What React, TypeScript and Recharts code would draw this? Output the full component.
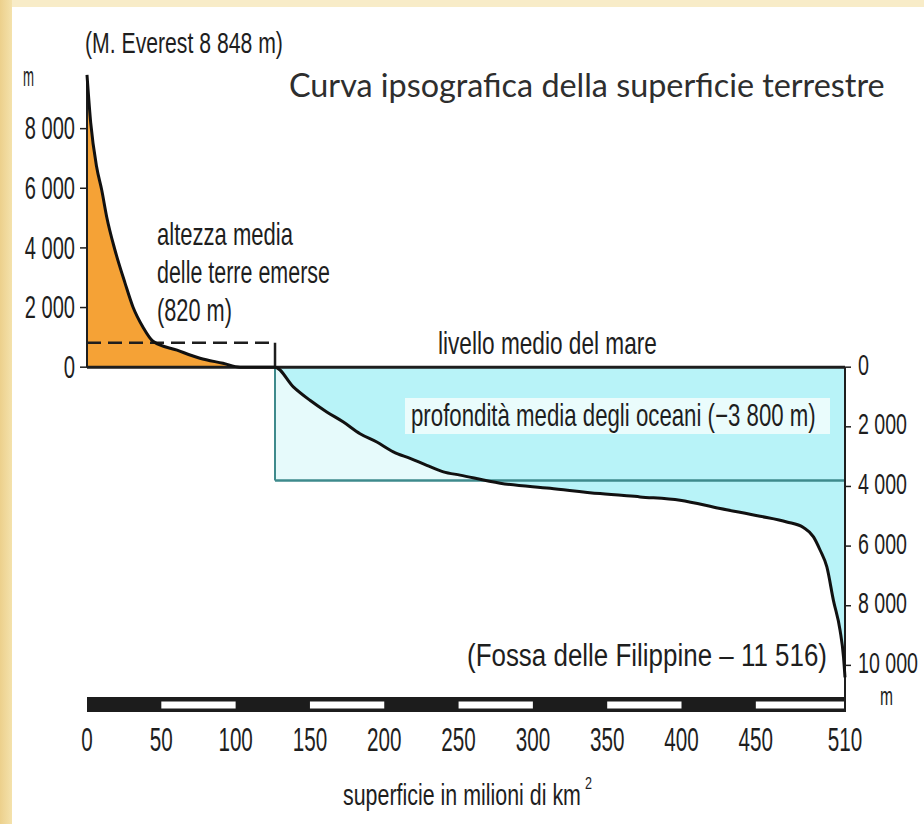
import { ComposedChart, Area, Line, XAxis, YAxis, ReferenceLine, ReferenceArea } from 'recharts';

// cumulative surface (millions of km²) and elevation (m)
const AREA_MKM2 = [
  0, 2.5, 6.5, 9.9, 13.3, 18.8, 25.6, 31, 37.7, 44.4, 60.6, 76, 91.5, 103, 126.5,
  138.8, 150, 161.3, 172.5, 183.7, 195, 206.1, 217.4, 228.6, 239.8, 251, 278, 311.6,
  345.2, 372.1, 399, 426, 452.9, 470.8, 482, 488.8, 493.3, 497.8, 502.2, 506.7, 509, 510,
];
const ELEVATION_M = [
  9800, 8190, 6710, 5940, 5030, 3930, 2820, 2010, 1340, 870, 570, 300, 130, 0, 0,
  -660, -1110, -1500, -1840, -2230, -2510, -2840, -3060, -3290, -3510, -3620, -3890, -4060,
  -4240, -4350, -4460, -4740, -5000, -5190, -5380, -5690, -6140, -6700, -7820, -8830, -9720, -10400,
];

const X_TICKS = [0, 50, 100, 150, 200, 250, 300, 350, 400, 450, 510];
const LEFT_TICKS = [0, 2000, 4000, 6000, 8000];
const RIGHT_TICKS = [0, -2000, -4000, -6000, -8000, -10000];
const SCALE_BAR_WHITE = [[50, 100], [150, 200], [250, 300], [350, 400], [450, 510]];

const OCEAN_START = 126.5;
const MEAN_LAND = 820;
const MEAN_DEPTH = -3800;
const PEAK = 9800;

const Y_DOMAIN = [-12000, 10000];
const BAR_TOP = -11060;
const BAR_BOTTOM = -11560;
const BAR_INNER_TOP = -11210;
const BAR_INNER_BOTTOM = -11450;

const NARROW = "'Liberation Sans', Arial, sans-serif";
const INK = '#1e1e1e';
const ORANGE = '#f5a236';
const CYAN = '#b8f3f8';
const PALE = '#e6fafb';
const TEAL = '#3e8a8c';

const data = AREA_MKM2.map((a, i) => {
  const e = ELEVATION_M[i];
  return {
    area: a,
    elev: e,
    land: Math.max(e, 0),
    sea: Math.min(e, 0),
    box: a >= OCEAN_START ? MEAN_DEPTH : null,
  };
});

const fmt = (v: number) => String(Math.abs(v)).replace(/\B(?=(\d{3})+(?!\d))/g, ' ');
const numW = (s: string, d = 11, sp = 5) => [...s].reduce((t, c) => t + (c === ' ' ? sp : d), 0);

// the original lettering is a tall condensed face: measure, then squeeze horizontally
let ctx: CanvasRenderingContext2D | null = null;
function measure(text: string, size: number, family: string) {
  if (!ctx) ctx = document.createElement('canvas').getContext('2d');
  if (!ctx) return text.length * size * 0.5;
  ctx.font = `${size}px ${family}`;
  return ctx.measureText(text).width;
}

function Txt({ x, y, w, size = 30, anchor = 'start', family = NARROW, fill = INK, children }: any) {
  const text = String(children);
  const sx = w ? w / measure(text, size, family) : 1;
  return (
    <text
      transform={`translate(${x} ${y}) scale(${sx} 1)`}
      x={0}
      y={0}
      fontSize={size}
      fontFamily={family}
      fill={fill}
      textAnchor={anchor}
      dominantBaseline="central"
    >
      {text}
    </text>
  );
}

const LeftTick = (p: any) => {
  const s = fmt(p.payload.value);
  return <Txt x={p.x} y={p.y} anchor="end" size={31} w={numW(s, 11.3)}>{s}</Txt>;
};

const RightTick = (p: any) => {
  const s = fmt(p.payload.value);
  return <Txt x={p.x} y={p.y - 3} size={30} w={numW(s, 11)}>{s}</Txt>;
};

const BottomTick = (p: any) => {
  const s = String(p.payload.value);
  return <Txt x={p.x} y={p.y + 15} anchor="middle" size={34} w={numW(s, 11.5)}>{s}</Txt>;
};

export default function App() {
  return (
    <div style={{ position: 'absolute', left: 0, top: 0, width: 924, height: 824, background: '#f8ecc8', overflow: 'hidden' }}>
      <div style={{ position: 'absolute', left: 0, top: 0, width: 12, height: 824, background: 'linear-gradient(90deg, #ecd08c, #f4e2ac)' }} />
      <div style={{ position: 'absolute', left: 12, top: 7, right: 0, bottom: 0, background: '#ffffff' }} />

      <div style={{ position: 'absolute', left: 0, top: 0 }}>
        <ComposedChart width={924} height={824} data={data} margin={{ top: 69, right: 0, bottom: 0, left: 0 }}>
          <XAxis
            type="number"
            dataKey="area"
            domain={[0, 510]}
            ticks={X_TICKS}
            interval={0}
            axisLine={false}
            tickLine={false}
            tickSize={0}
            tickMargin={0}
            height={99}
            tick={<BottomTick />}
          />
          <YAxis
            yAxisId="L"
            type="number"
            domain={Y_DOMAIN}
            ticks={LEFT_TICKS}
            interval={0}
            width={87}
            axisLine={false}
            tickLine={{ stroke: INK, strokeWidth: 1.5 }}
            tickSize={7}
            tickMargin={5}
            tick={<LeftTick />}
            allowDataOverflow
          />
          <YAxis
            yAxisId="R"
            orientation="right"
            type="number"
            domain={Y_DOMAIN}
            ticks={RIGHT_TICKS}
            interval={0}
            width={79}
            axisLine={false}
            tickLine={{ stroke: INK, strokeWidth: 1.5 }}
            tickSize={6}
            tickMargin={7}
            tick={<RightTick />}
            allowDataOverflow
          />

          <Area yAxisId="L" dataKey="box" type="linear" baseValue={0} stroke="none" fill={PALE} fillOpacity={1} isAnimationActive={false} />
          <Area yAxisId="L" dataKey="sea" type="monotone" baseValue={0} stroke="none" fill={CYAN} fillOpacity={1} isAnimationActive={false} />
          <Area yAxisId="L" dataKey="land" type="monotone" baseValue={0} stroke="none" fill={ORANGE} fillOpacity={1} isAnimationActive={false} />

          {/* mean depth box */}
          <ReferenceLine yAxisId="L" segment={[{ x: OCEAN_START, y: 0 }, { x: OCEAN_START, y: MEAN_DEPTH }]} stroke={TEAL} strokeWidth={2} />
          <ReferenceLine yAxisId="L" segment={[{ x: OCEAN_START, y: MEAN_DEPTH }, { x: 510, y: MEAN_DEPTH }]} stroke={TEAL} strokeWidth={2.5} />

          {/* mean land height */}
          <ReferenceLine yAxisId="L" segment={[{ x: 0, y: MEAN_LAND }, { x: OCEAN_START, y: MEAN_LAND }]} stroke={INK} strokeWidth={2.5} strokeDasharray="14 7" />
          <ReferenceLine yAxisId="L" segment={[{ x: OCEAN_START, y: MEAN_LAND }, { x: OCEAN_START, y: 0 }]} stroke={INK} strokeWidth={2.5} />

          {/* scale bar */}
          <ReferenceArea yAxisId="L" x1={0} x2={510} y1={BAR_BOTTOM} y2={BAR_TOP} fill="#1c1c1c" fillOpacity={1} stroke="none" />
          {SCALE_BAR_WHITE.map(([a, b]) => (
            <ReferenceArea key={a} yAxisId="L" x1={a} x2={b} y1={BAR_INNER_BOTTOM} y2={BAR_INNER_TOP} fill="#ffffff" fillOpacity={1} stroke="none" />
          ))}

          {/* axes drawn only where the original has them */}
          <ReferenceLine yAxisId="L" segment={[{ x: 0, y: 0 }, { x: 0, y: PEAK }]} stroke={INK} strokeWidth={2} />
          <ReferenceLine yAxisId="L" segment={[{ x: 510, y: 0 }, { x: 510, y: BAR_BOTTOM }]} stroke={INK} strokeWidth={2} />
          <ReferenceLine yAxisId="L" y={0} stroke={INK} strokeWidth={3} />

          <Line yAxisId="L" dataKey="elev" type="monotone" stroke="#111111" strokeWidth={3} dot={false} isAnimationActive={false} />
        </ComposedChart>
      </div>

      <svg width={924} height={824} style={{ position: 'absolute', left: 0, top: 0, pointerEvents: 'none' }}>
        <Txt x={85} y={43} size={29} w={198}>(M. Everest 8 848 m)</Txt>
        <Txt x={23} y={76} size={28} w={11}>m</Txt>
        <Txt x={289} y={85} size={32} w={596} family="Lato, 'Open Sans', sans-serif" fill="#2e2e2e">
          Curva ipsografica della superficie terrestre
        </Txt>

        <Txt x={157} y={235} size={31} w={136}>altezza media</Txt>
        <Txt x={157} y={273} size={31} w={173}>delle terre emerse</Txt>
        <Txt x={157} y={311} size={31} w={75}>(820 m)</Txt>

        <Txt x={438} y={343} size={31} w={219}>livello medio del mare</Txt>

        <rect x={405} y={398} width={425} height={36} fill="#f2fdfd" opacity={0.85} />
        <Txt x={411} y={416} size={31} w={411}>profondità media degli oceani  (−3 800 m)</Txt>

        <Txt x={467} y={655} size={31} w={360}>(Fossa delle Filippine – 11 516)</Txt>
        <Txt x={880} y={696} size={25} w={13}>m</Txt>

        <Txt x={343} y={795} size={29} w={238}>superficie in milioni di km</Txt>
        <Txt x={585} y={783} size={17} w={7}>2</Txt>
      </svg>
    </div>
  );
}
